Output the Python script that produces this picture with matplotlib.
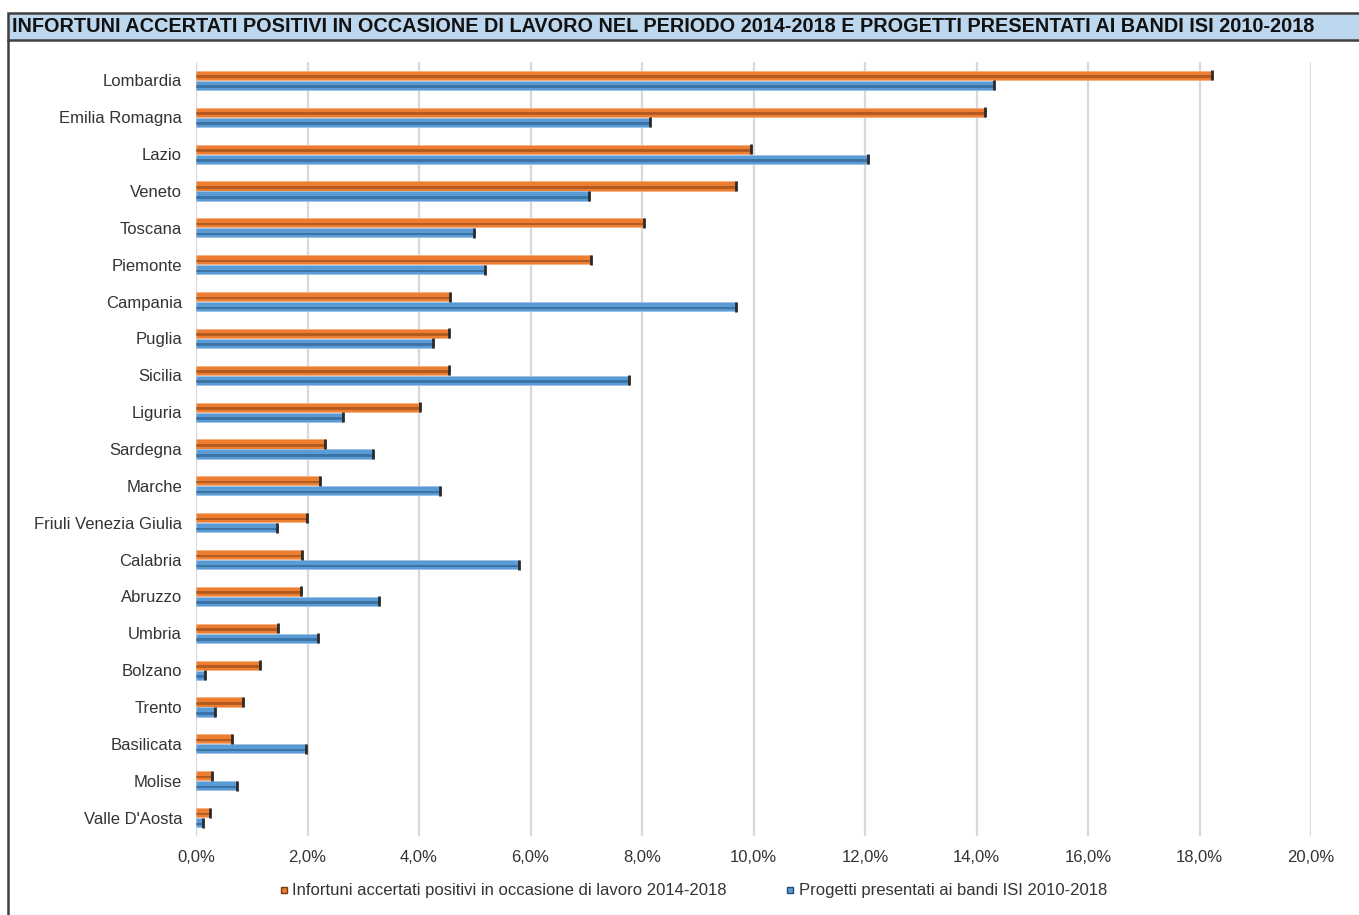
import matplotlib
matplotlib.use("Agg")
import matplotlib.pyplot as plt
import numpy as np
from matplotlib.lines import Line2D
from matplotlib.patches import Rectangle
from matplotlib.ticker import FuncFormatter

plt.rcParams['font.family'] = ['Liberation Sans', 'DejaVu Sans']

# data (percent shares)
regions = ["Lombardia", "Emilia Romagna", "Lazio", "Veneto", "Toscana", "Piemonte",
           "Campania", "Puglia", "Sicilia", "Liguria", "Sardegna", "Marche",
           "Friuli Venezia Giulia", "Calabria", "Abruzzo", "Umbria", "Bolzano",
           "Trento", "Basilicata", "Molise", "Valle D'Aosta"]
infortuni = [18.22, 14.15, 9.96, 9.68, 8.03, 7.09, 4.56, 4.53, 4.53, 4.02, 2.32,
             2.23, 1.99, 1.91, 1.88, 1.47, 1.14, 0.85, 0.65, 0.29, 0.25]
progetti = [14.31, 8.15, 12.06, 7.05, 4.99, 5.19, 9.69, 4.25, 7.77, 2.64, 3.17,
            4.37, 1.46, 5.79, 3.28, 2.19, 0.17, 0.34, 1.97, 0.74, 0.12]
xticks = [0, 2, 4, 6, 8, 10, 12, 14, 16, 18, 20]

lab_inf = "Infortuni accertati positivi in occasione di lavoro 2014-2018"
lab_prog = "Progetti presentati ai bandi ISI 2010-2018"
title = ("INFORTUNI ACCERTATI POSITIVI IN OCCASIONE DI LAVORO NEL PERIODO 2014-2018 "
         "E PROGETTI PRESENTATI AI BANDI ISI 2010-2018")

orange, orange_dk = "#ED7D31", "#7A3A10"
blue, blue_dk = "#5B9BD5", "#1F4E79"

fig = plt.figure(figsize=(13.59, 9.15), dpi=100)

# title bar + frame
fig.patches.append(Rectangle((8 / 1359, 1 - 40 / 915), 1.0, 27 / 915, transform=fig.transFigure,
                             facecolor="#BDD7EE", edgecolor="#404040", linewidth=1.8))
fig.add_artist(Line2D([8 / 1359, 8 / 1359], [0, 1 - 40 / 915], transform=fig.transFigure,
                      color="#404040", linewidth=1.8))
fig.text(12 / 1359, 1 - 27 / 915, title, fontsize=14.3, fontweight="bold",
         va="center", ha="left", color="#111111")

ax = fig.add_axes([196 / 1359, 1 - 836 / 915, (1311 - 196) / 1359, (836 - 62) / 915])

y = np.arange(len(regions))
h = 0.25
off = 0.135

def cyl_bars(ypos, vals, col, dark):
    ax.barh(ypos, vals, height=h, color=col, edgecolor="#F4B183" if col == orange else "#9DC3E6",
            linewidth=0.6, zorder=3)
    ax.barh(ypos + 0.035, vals, height=0.07, color=dark, alpha=0.5, linewidth=0, zorder=4)
    ax.plot(vals, ypos, linestyle="none", marker="|", markersize=7, markeredgewidth=2.0,
            color="#2a2a2a", zorder=5)

cyl_bars(y - off, infortuni, orange, orange_dk)
cyl_bars(y + off, progetti, blue, blue_dk)

ax.set_xlim(0, 20)
ax.set_ylim(len(regions) - 0.5, -0.5)
ax.set_xticks(xticks)
ax.xaxis.set_major_formatter(FuncFormatter(lambda v, p: ("%.1f%%" % v).replace(".", ",")))
ax.set_yticks(y)
ax.set_yticklabels(regions)
ax.tick_params(axis="both", length=0, labelsize=12, colors="#333333")
ax.tick_params(axis="y", pad=10)
ax.tick_params(axis="x", pad=10)
ax.grid(axis="x", color="#D9D9D9", linewidth=1.6, zorder=0)
ax.set_axisbelow(True)
for s in ax.spines.values():
    s.set_visible(False)

handles = [Line2D([], [], linestyle="none", marker="s", markersize=5, color=orange,
                  markeredgecolor=orange_dk),
           Line2D([], [], linestyle="none", marker="s", markersize=5, color=blue,
                  markeredgecolor=blue_dk)]
fig.legend(handles, [lab_inf, lab_prog], loc="center", bbox_to_anchor=(693 / 1359, 1 - 891 / 915),
           ncol=2, frameon=False, fontsize=12, handlelength=0.6, handletextpad=0.2,
           columnspacing=3.5, labelcolor="#333333")

plt.savefig("out.png", dpi=100)
